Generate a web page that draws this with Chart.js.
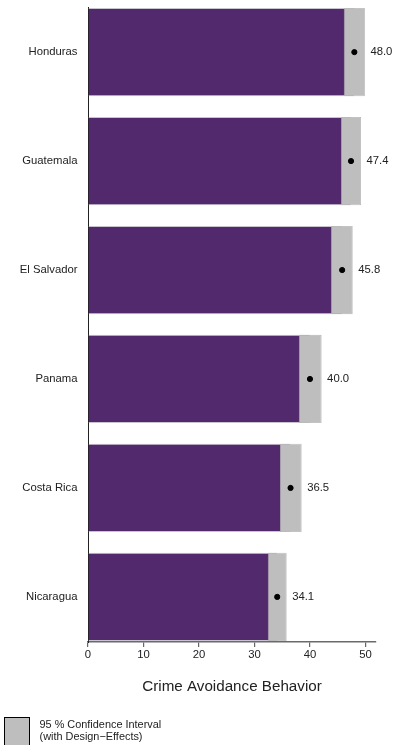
<!DOCTYPE html>
<html>
<head>
<meta charset="utf-8">
<script src="https://cdn.jsdelivr.net/npm/chart.js@4"></script>
<style>
  body { margin: 0; background: #fff; }
  #wrap { width: 406px; height: 745px; position: relative; }
</style>
</head>
<body>
<div id="wrap"><canvas id="chart"></canvas></div>
<script>
// data
const countries = ['Honduras', 'Guatemala', 'El Salvador', 'Panama', 'Costa Rica', 'Nicaragua'];
const means = [48.0, 47.4, 45.8, 40.0, 36.5, 34.1];
const ciLow = [46.1, 45.6, 43.8, 38.0, 34.6, 32.4];
const ciHigh = [49.9, 49.2, 47.7, 42.1, 38.5, 35.8];
const xTicks = [0, 10, 20, 30, 40, 50];

const purple = '#53296e';
const ciGrey = '#bebebe';
const fontFam = '"Liberation Sans", Arial, Helvetica, sans-serif';

// value labels + legend box
const extras = {
  id: 'extras',
  afterDatasetsDraw(chart) {
    const ctx = chart.ctx;
    const xs = chart.scales.x, ys = chart.scales.y;
    ctx.save();
    ctx.font = '11.3px ' + fontFam;
    ctx.fillStyle = '#222';
    ctx.textAlign = 'left';
    ctx.textBaseline = 'middle';
    means.forEach((m, i) => {
      ctx.fillText(m.toFixed(1), xs.getPixelForValue(ciHigh[i]) + 5.5, ys.getPixelForValue(i));
    });

    // legend
    ctx.fillStyle = ciGrey;
    ctx.fillRect(4.5, 717.5, 25, 40);
    ctx.strokeStyle = '#000';
    ctx.lineWidth = 1;
    ctx.strokeRect(4.5, 717.5, 25, 40);
    ctx.fillStyle = '#222';
    ctx.font = '10.9px ' + fontFam;
    ctx.fillText('95 % Confidence Interval', 39.5, 725);
    ctx.fillText('(with Design\u2212Effects)', 39.5, 736.5);
    ctx.restore();
  }
};

new Chart(document.getElementById('chart'), {
  data: {
    datasets: [
      {
        type: 'scatter',
        data: means.map((m, i) => ({x: m, y: i})),
        backgroundColor: '#000',
        borderColor: '#000',
        pointRadius: 2.6,
        pointHoverRadius: 2.6,
        order: 0
      },
      {
        type: 'bar',
        indexAxis: 'y',
        grouped: false,
        data: ciLow.map((lo, i) => ({x: [lo, ciHigh[i]], y: i})),
        backgroundColor: ciGrey,
        borderColor: '#b4b4b4',
        borderWidth: 0.8,
        borderSkipped: false,
        barPercentage: 0.81,
        categoryPercentage: 1,
        order: 1
      },
      {
        type: 'bar',
        indexAxis: 'y',
        grouped: false,
        data: means.map((m, i) => ({x: m, y: i})),
        backgroundColor: purple,
        borderColor: '#c9c3cf',
        borderWidth: 1,
        borderSkipped: 'start',
        barPercentage: 0.81,
        categoryPercentage: 1,
        order: 2
      }
    ]
  },
  options: {
    responsive: true,
    maintainAspectRatio: false,
    animation: false,
    layout: { padding: { top: 7, right: 30, left: 0, bottom: 0 } },
    plugins: { legend: { display: false }, tooltip: { enabled: false } },
    scales: {
      x: {
        type: 'linear',
        position: 'bottom',
        offset: false,
        min: 0,
        max: 51.9,
        afterBuildTicks: s => { s.ticks = xTicks.map(v => ({value: v})); },
        afterFit: s => { s.height = 103; s.paddingLeft = 0; s.paddingRight = 0; },
        grid: { display: true, offset: false, drawOnChartArea: false, drawTicks: true, tickLength: 5, color: '#666', lineWidth: 1.2 },
        border: { display: true, color: '#6a6a6a', width: 1.6 },
        ticks: { color: '#222', padding: 1, maxRotation: 0, font: { family: fontFam, size: 11.3 } },
        title: {
          display: true,
          text: 'Crime Avoidance Behavior',
          color: '#222',
          font: { family: fontFam, size: 15.2 },
          padding: { top: 0, bottom: 49 }
        }
      },
      y: {
        type: 'linear',
        position: 'left',
        reverse: true,
        offset: false,
        min: -0.414,
        max: 5.414,
        afterBuildTicks: s => { s.ticks = countries.map((c, i) => ({value: i})); },
        afterFit: s => { s.width = 88; s.paddingTop = 0; s.paddingBottom = 0; },
        grid: { display: false, offset: false, drawTicks: false },
        border: { display: true, color: '#222', width: 1 },
        ticks: {
          color: '#222',
          padding: 10.5,
          font: { family: fontFam, size: 11.3 },
          callback: v => countries[v]
        }
      }
    }
  },
  plugins: [extras]
});
</script>
</body>
</html>
